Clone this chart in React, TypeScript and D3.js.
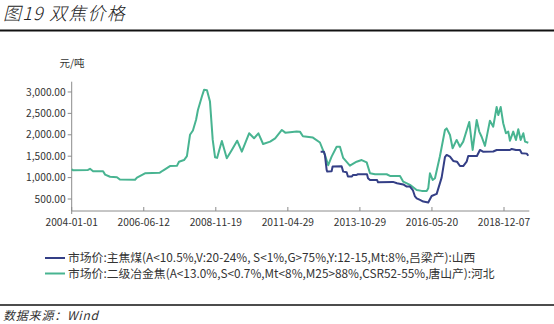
import React from "react";
import * as d3 from "d3";

const titleText = "图19 双焦价格";
const sourceText = "数据来源：Wind";
const unitLabel = "元/吨";

const xTickLabels = ["2004-01-01", "2006-06-12", "2008-11-19", "2011-04-29", "2013-10-29", "2016-05-20", "2018-12-07"];
const xEndDate = "2019-10-29";
const yTickValues = [500, 1000, 1500, 2000, 2500, 3000];

const seriesNames = [
  "市场价:主焦煤(A<10.5%,V:20-24%, S<1%,G>75%,Y:12-15,Mt:8%,吕梁产):山西",
  "市场价:二级冶金焦(A<13.0%,S<0.7%,Mt<8%,M25>88%,CSR52-55%,唐山产):河北",
];

// 主焦煤 (coking coal)
const coalDates = [
  "2012-06-18", "2012-07-30", "2012-08-11", "2012-09-02", "2012-09-10", "2012-11-04", "2012-11-17",
  "2013-03-11", "2013-03-31", "2013-05-14", "2013-05-30", "2013-07-20", "2013-08-01", "2013-09-17",
  "2013-10-04", "2014-01-29", "2014-02-11", "2014-03-09", "2014-06-08", "2014-06-21", "2015-01-01",
  "2015-02-22", "2015-05-14", "2015-06-28", "2015-08-09", "2015-09-17", "2015-10-13", "2015-11-04",
  "2015-12-17", "2016-01-29", "2016-04-02", "2016-05-16", "2016-07-20", "2016-09-22", "2016-11-04",
  "2016-11-26", "2017-01-08", "2017-02-19", "2017-04-08", "2017-05-17", "2017-06-28", "2017-08-11",
  "2017-09-01", "2017-12-22", "2018-01-30", "2018-03-10", "2018-07-21", "2018-09-03", "2019-02-22",
  "2019-03-16", "2019-05-10", "2019-07-01", "2019-07-23", "2019-09-26", "2019-10-16",
];
const coalValues = [
  1605, 1605, 1530, 1180, 1140, 1150, 1260,
  1265, 1140, 1125, 1025, 1025, 1062, 1062,
  1078, 1078, 985, 945, 945, 890, 900,
  868, 840, 790, 790, 700, 560, 515,
  480, 440, 420, 570, 620, 1000, 1480,
  1530, 1490, 1390, 1372, 1270, 1270, 1372,
  1505, 1505, 1645, 1605, 1610, 1645, 1645,
  1670, 1645, 1645, 1570, 1560, 1510,
];

// 二级冶金焦 (metallurgical coke)
const cokeDates = [
  "2004-01-01", "2004-01-20", "2004-07-21", "2004-08-15", "2004-09-22", "2005-01-24", "2005-02-18",
  "2005-04-20", "2005-07-15", "2005-08-20", "2006-02-24", "2006-03-20", "2006-06-27", "2006-12-28",
  "2007-02-05", "2007-05-02", "2007-07-27", "2007-08-22", "2007-10-23", "2007-11-28", "2008-01-05",
  "2008-02-10", "2008-03-20", "2008-04-12", "2008-06-01", "2008-06-27", "2008-08-02", "2008-09-08",
  "2008-10-12", "2008-11-10", "2008-12-05", "2009-01-01", "2009-02-02", "2009-04-04", "2009-06-05",
  "2009-08-10", "2009-10-07", "2010-01-05", "2010-03-07", "2010-04-30", "2010-06-27", "2010-09-22",
  "2010-11-23", "2011-02-14", "2011-03-28", "2011-05-26", "2011-08-19", "2011-09-29", "2011-11-06",
  "2012-03-12", "2012-06-09", "2012-08-11", "2012-09-22", "2012-11-04", "2013-01-07", "2013-02-18",
  "2013-03-31", "2013-06-24", "2013-09-17", "2013-11-21", "2014-01-25", "2014-03-09", "2014-05-13",
  "2014-10-11", "2014-11-23", "2015-04-02", "2015-05-14", "2015-08-09", "2015-11-04", "2016-01-08",
  "2016-03-13", "2016-04-02", "2016-04-24", "2016-05-29", "2016-06-28", "2016-08-31", "2016-11-04",
  "2016-11-26", "2017-01-08", "2017-02-11", "2017-04-04", "2017-05-17", "2017-06-28", "2017-09-14",
  "2017-10-28", "2017-12-19", "2018-01-21", "2018-02-21", "2018-04-05", "2018-06-08", "2018-07-21",
  "2018-09-03", "2018-09-24", "2018-10-25", "2018-11-27", "2019-01-01", "2019-01-31", "2019-02-22",
  "2019-04-05", "2019-05-10", "2019-06-09", "2019-07-10", "2019-08-13", "2019-09-04", "2019-10-16",
];
const cokeValues = [
  1195, 1170, 1178, 1205, 1150, 1147, 1070,
  1020, 1010, 955, 950, 1000, 1100, 1115,
  1165, 1270, 1275, 1372, 1410, 1500, 2000,
  2100, 2350, 2580, 2900, 3050, 3040, 2775,
  1880, 1475, 1460, 1645, 1855, 1450, 1645,
  1862, 1605, 2035, 1918, 2035, 1785, 1840,
  1918, 2112, 2050, 2060, 2075, 2073, 1965,
  1935, 1820, 1530, 1290, 1490, 1720, 1720,
  1460, 1280, 1372, 1410, 1355, 1100, 1080,
  1078, 1040, 1035, 905, 830, 710, 690,
  688, 750, 1100, 945, 985, 1500, 2112,
  2150, 1995, 1685, 1880, 1720, 1840, 2300,
  1645, 2345, 2075, 1955, 1740, 2330, 2190,
  2650, 2460, 2650, 2270, 2035, 2075, 1862,
  2075, 1880, 2130, 1880, 2035, 1840, 1815,
];

const colors = ["#343f86", "#48b491"];
const W = 554;
const H = 324;
const font = "'Noto Sans CJK SC', 'Noto Sans', sans-serif";

export default function App() {
  const parse = d3.timeParse("%Y-%m-%d");
  const tickDates = xTickLabels.map((s) => parse(s) as Date);
  const left = 71.7;
  const step = 72.05;
  const x = d3
    .scaleTime()
    .domain([...tickDates, parse(xEndDate) as Date])
    .range([...tickDates.map((_, i) => left + i * step), 529.3]);
  const y = d3.scaleLinear().domain([220, 3240]).range([211, 81.7]);

  const coal = coalDates.map((d, i) => ({ date: parse(d) as Date, v: coalValues[i] }));
  const coke = cokeDates.map((d, i) => ({ date: parse(d) as Date, v: cokeValues[i] }));
  const line = d3
    .line<{ date: Date; v: number }>()
    .x((d) => x(d.date))
    .y((d) => y(d.v));

  const fmt = d3.format(",.2f");
  const axisColor = "#8c8c8c";
  const xr = x.range();
  const x0 = xr[0];
  const x1 = xr[xr.length - 1];
  const [yb, yt] = y.range();

  return (
    <svg width={W} height={H} style={{ position: "absolute", left: 0, top: 0, background: "#fff" }} fontFamily={font}>
      <text x={3} y={20} fontSize={18} fontStyle="italic" fill="#222" letterSpacing={1.2} fontWeight={300}>{titleText}</text>
      <line x1={0} x2={W} y1={30.5} y2={30.5} stroke="#111" strokeWidth={2} />

      <text x={72} y={67} fontSize={10.5} fill="#333" textAnchor="middle">{unitLabel}</text>

      {/* y axis */}
      <line x1={x0} x2={x0} y1={yt} y2={yb + 3} stroke={axisColor} strokeWidth={1} />
      {yTickValues.map((t) => (
        <g key={t}>
          <line x1={x0 - 4} x2={x0} y1={y(t)} y2={y(t)} stroke={axisColor} />
          <text x={x0 - 6} y={y(t)} dy="0.35em" fontSize={10.2} fill="#333" textAnchor="end">{fmt(t)}</text>
        </g>
      ))}

      {/* x axis */}
      <line x1={x0} x2={x1} y1={yb} y2={yb} stroke={axisColor} strokeWidth={1} />
      {tickDates.map((d, i) => (
        <g key={i}>
          <line x1={x(d)} x2={x(d)} y1={yb} y2={yb - 4} stroke={axisColor} />
          <text x={x(d)} y={226} fontSize={10.2} fill="#333" textAnchor="middle">{xTickLabels[i]}</text>
        </g>
      ))}

      <path d={line(coke) || ""} fill="none" stroke={colors[1]} strokeWidth={2} strokeLinejoin="round" />
      <path d={line(coal) || ""} fill="none" stroke={colors[0]} strokeWidth={2} strokeLinejoin="round" />

      {/* legend */}
      {seriesNames.map((n, i) => (
        <g key={i} transform={`translate(45, ${258 + i * 15.5})`}>
          <line x1={0} x2={20} y1={0} y2={0} stroke={colors[i]} strokeWidth={2} />
          <text x={23} y={0} dy="0.35em" fontSize={11.8} fill="#333">{n}</text>
        </g>
      ))}

      <line x1={0} x2={W} y1={305} y2={305} stroke="#111" strokeWidth={1.5} />
      <text x={3} y={319.5} fontSize={12} fontStyle="italic" fill="#333" letterSpacing={0.8}>{sourceText}</text>
    </svg>
  );
}
